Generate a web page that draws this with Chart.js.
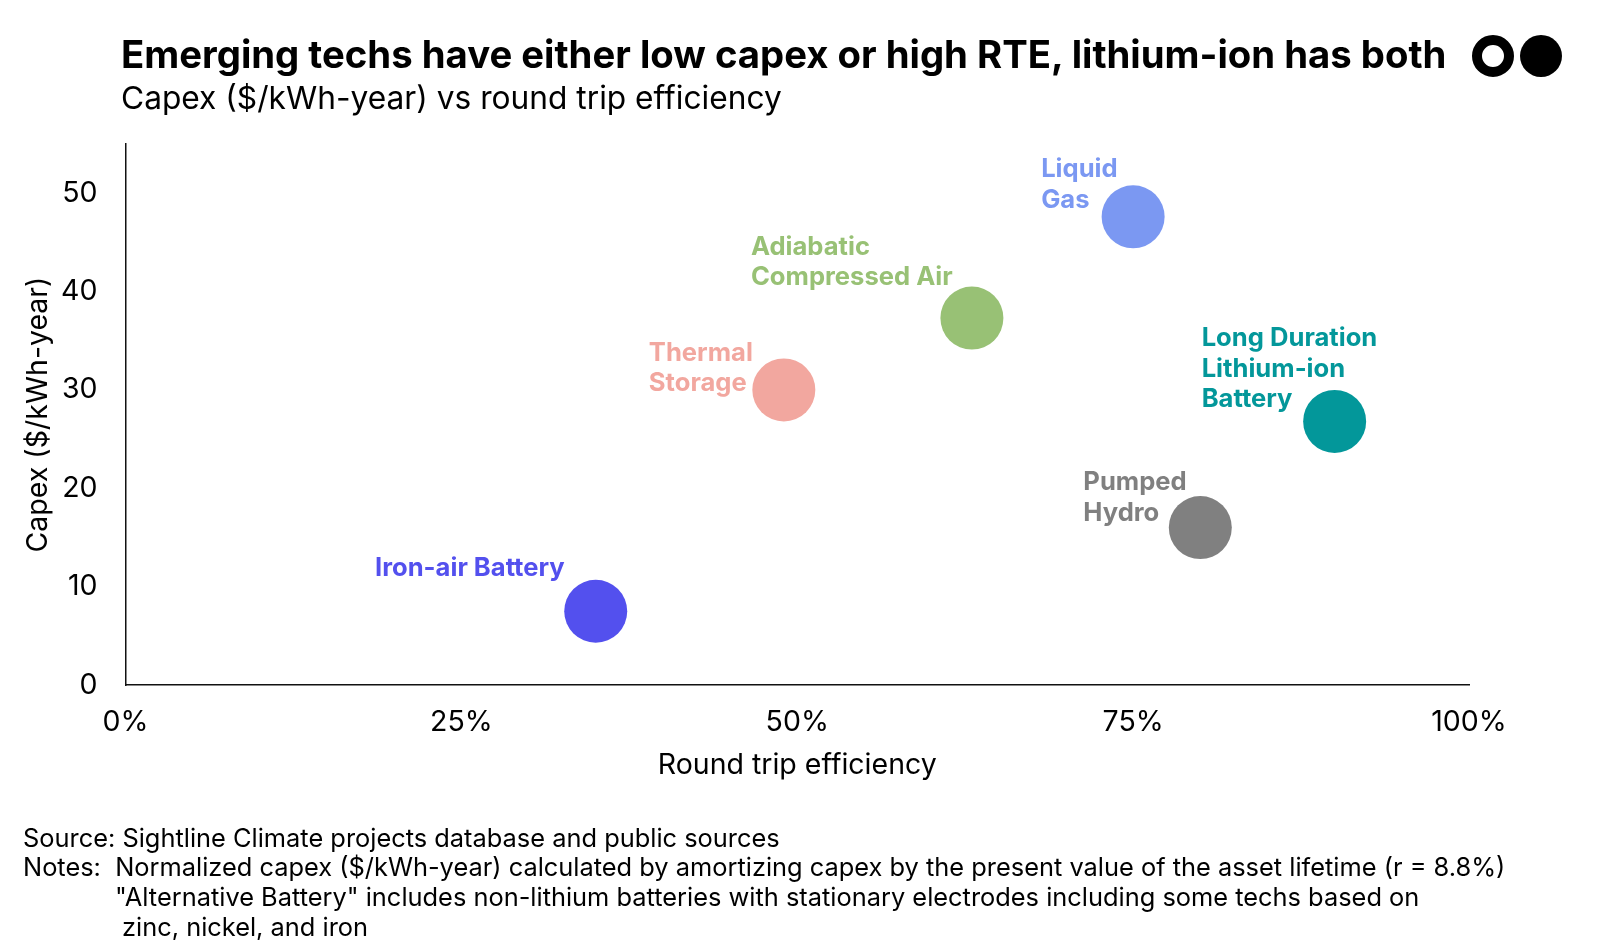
<!DOCTYPE html>
<html>
<head>
<meta charset="utf-8">
<script src="https://cdn.jsdelivr.net/npm/chart.js@4.4.1/dist/chart.umd.min.js"></script>
<style>
  html, body { margin: 0; padding: 0; background: #fff; }
  #wrap { position: relative; width: 1600px; height: 943px; overflow: hidden; font-family: Inter, "Noto Sans", sans-serif; color: #000; }
  #c { position: absolute; left: 0; top: 0; }
  .txt { position: absolute; white-space: nowrap; }
  #title { left: 121px; top: 30px; font-size: 38.3px; font-weight: 700; letter-spacing: 0; line-height: 48px; }
  #subtitle { left: 121px; top: 80px; font-size: 31.7px; font-weight: 400; line-height: 36px; }
  .foot { left: 23px; font-size: 25.4px; line-height: 30px; }
  .logo { position: absolute; border-radius: 50%; box-sizing: border-box; }
</style>
</head>
<body>
<div id="wrap">
  <canvas id="c" width="1600" height="943"></canvas>
  <div id="title" class="txt">Emerging techs have either low capex or high RTE, lithium-ion has both</div>
  <div id="subtitle" class="txt">Capex ($/kWh-year) vs round trip efficiency</div>
  <div class="logo" style="left:1472px; top:35px; width:42px; height:42px; border:10.5px solid #000; background:#fff;"></div>
  <div class="logo" style="left:1520px; top:35px; width:42px; height:42px; background:#000;"></div>
  <div class="txt foot" style="top:823px;">Source: Sightline Climate projects database and public sources</div>
  <div class="txt foot" style="top:852px;">Notes:&nbsp; Normalized capex ($/kWh-year) calculated by amortizing capex by the present value of the asset lifetime (r = 8.8%)</div>
  <div class="txt foot" style="top:882px; left:115px;">"Alternative Battery" includes non-lithium batteries with stationary electrodes including some techs based on</div>
  <div class="txt foot" style="top:912px; left:122px;">zinc, nickel, and iron</div>
</div>
<script>
// ---- data ----
const techs = ["Iron-air Battery", "Thermal Storage", "Adiabatic Compressed Air", "Liquid Gas", "Long Duration Lithium-ion Battery", "Pumped Hydro"];
const labelLines = [["Iron-air Battery"], ["Thermal", "Storage"], ["Adiabatic", "Compressed Air"], ["Liquid", "Gas"], ["Long Duration", "Lithium-ion", "Battery"], ["Pumped", "Hydro"]];
const roundTripEfficiency = [35, 49, 63, 75, 90, 80];   // %
const capexPerKWhYear = [7.5, 30, 37.3, 47.6, 26.8, 16];   // $/kWh-year
const xTicks = [0, 25, 50, 75, 100];
const yTicks = [0, 10, 20, 30, 40, 50];

// ---- styles ----
const colors = ["#5350EE", "#F2A79F", "#98C175", "#7B98F2", "#03979A", "#808080"];
const labelPlacement = [
  { align: "right", dx: -31, dy: -43 },
  { align: "left", dx: -135, dy: -37 },
  { align: "left", dx: -221, dy: -71 },
  { align: "left", dx: -92, dy: -47 },
  { align: "left", dx: -133, dy: -83 },
  { align: "left", dx: -117, dy: -45 }
];
const FONT = "Inter, 'Noto Sans', sans-serif";
const AXIS_FONT = { family: FONT, size: 28.5, lineHeight: 1.2 };

const points = techs.map((t, i) => ({ x: roundTripEfficiency[i], y: capexPerKWhYear[i] }));

const labelPlugin = {
  id: "bubbleLabels",
  afterDatasetsDraw(chart) {
    const ctx = chart.ctx;
    const meta = chart.getDatasetMeta(0);
    ctx.save();
    ctx.font = "700 25.6px " + FONT;
    ctx.textBaseline = "middle";
    meta.data.forEach((el, i) => {
      const p = labelPlacement[i];
      ctx.fillStyle = colors[i];
      ctx.textAlign = p.align;
      labelLines[i].forEach((line, k) => {
        ctx.fillText(line, el.x + p.dx, el.y + p.dy + k * 30.6);
      });
    });
    ctx.restore();
  }
};

new Chart(document.getElementById("c"), {
  type: "scatter",
  data: {
    datasets: [{
      label: "Technologies",
      data: points,
      backgroundColor: colors,
      borderColor: colors,
      borderWidth: 0,
      pointRadius: 31.5,
      pointHoverRadius: 31.5
    }]
  },
  options: {
    responsive: false,
    animation: false,
    events: [],
    layout: { padding: { left: 0, right: 131, top: 144, bottom: 0 } },
    plugins: { legend: { display: false }, tooltip: { enabled: false }, title: { display: false } },
    scales: {
      x: {
        type: "linear",
        min: 0, max: 100,
        afterBuildTicks: s => { s.ticks = xTicks.map(v => ({ value: v })); },
        afterFit: s => { s.height = 258; },
        grid: { display: false, drawTicks: false },
        border: { display: true, color: "#111", width: 1.5 },
        ticks: { padding: 20.4, color: "#000", font: AXIS_FONT, callback: v => v + "%" },
        title: { display: true, text: "Round trip efficiency", color: "#000", font: AXIS_FONT, padding: { top: 0, bottom: 160.4 } }
      },
      y: {
        type: "linear",
        min: 0, max: 55,
        afterBuildTicks: s => { s.ticks = yTicks.map(v => ({ value: v })); },
        afterFit: s => { s.width = 125.5; },
        grid: { display: false, drawTicks: false },
        border: { display: true, color: "#111", width: 1.5 },
        ticks: { padding: 28, color: "#000", font: AXIS_FONT },
        title: { display: true, text: "Capex ($/kWh-year)", color: "#000", font: AXIS_FONT, padding: { top: 21.4, bottom: 0 } }
      }
    }
  },
  plugins: [labelPlugin]
});
</script>
</body>
</html>
